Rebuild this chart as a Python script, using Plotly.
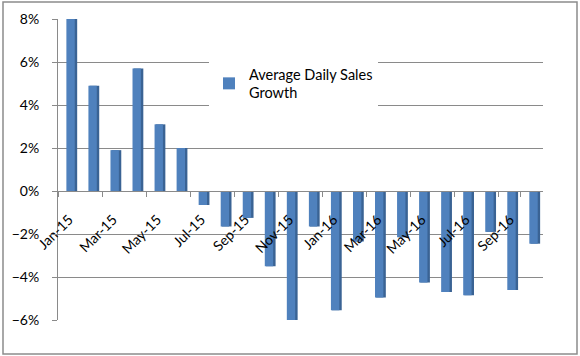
import plotly.graph_objects as go

months = ["Jan-15", "Feb-15", "Mar-15", "Apr-15", "May-15", "Jun-15",
          "Jul-15", "Aug-15", "Sep-15", "Oct-15", "Nov-15", "Dec-15",
          "Jan-16", "Feb-16", "Mar-16", "Apr-16", "May-16", "Jun-16",
          "Jul-16", "Aug-16", "Sep-16", "Oct-16"]
growth = [0.080, 0.049, 0.019, 0.057, 0.031, 0.020,
          -0.0065, -0.0165, -0.0125, -0.035, -0.060, -0.0165,
          -0.0555, -0.0235, -0.0495, -0.0215, -0.0425, -0.047,
          -0.0485, -0.019, -0.046, -0.0245]
label_months = months[::2]
y_ticks = [-0.06, -0.04, -0.02, 0.0, 0.02, 0.04, 0.06, 0.08]

series_name = "Average Daily Sales<br>Growth"
FONT = "Lato, 'Open Sans', sans-serif"
GRID = "#8a8a8a"

fig = go.Figure()
# darker side face (gives the 3D column look)
fig.add_trace(go.Bar(x=months, y=growth, width=0.44, offset=-0.07,
                     marker=dict(color="#3a6394", line=dict(width=0)),
                     showlegend=False, hoverinfo="skip"))
# front face
fig.add_trace(go.Bar(x=months, y=growth, width=0.38, offset=-0.12,
                     name=series_name,
                     marker=dict(color="#4f81bd", line=dict(width=0))))

L, R, T, B = 58, 37, 19, 36
W, H = 580, 356
pw, ph = W - L - R, H - T - B

fig.update_layout(
    width=W, height=H,
    margin=dict(l=L, r=R, t=T, b=B, autoexpand=False),
    barmode="overlay",
    paper_bgcolor="white", plot_bgcolor="white",
    font=dict(family=FONT, size=12, color="#000000"),
    showlegend=True,
    legend=dict(x=(209 - L) / pw, y=(H - B - 58) / ph, xanchor="left", yanchor="top",
                bgcolor="white", font=dict(size=14.5, family=FONT, color="#000"),
                itemwidth=30, tracegroupgap=0),
    yaxis=dict(range=[-0.06, 0.08], tickvals=y_ticks, tickformat=".0%",
               showgrid=True, gridcolor=GRID, gridwidth=1,
               zeroline=False, showline=True, linecolor=GRID, linewidth=1,
               ticks="outside", ticklen=5, tickcolor=GRID,
               ticklabelstandoff=10, tickfont=dict(size=14)),
    xaxis=dict(type="category", categoryorder="array", categoryarray=months,
               range=[-0.5, len(months) - 0.5],
               tickvals=label_months, tickangle=-45, tickson="boundaries",
               anchor="free", position=6 / 14,
               showgrid=False, zeroline=False,
               showline=True, linecolor=GRID, linewidth=1,
               ticks="outside", ticklen=5, tickcolor=GRID,
               ticklabelstandoff=14, tickfont=dict(size=14)),
    shapes=[dict(type="rect", xref="paper", yref="paper",
                 x0=(3 - L) / pw, x1=(577 - L) / pw,
                 y0=(H - B - 354) / ph, y1=(H - B - 2) / ph,
                 line=dict(color="#8c8c8c", width=1.5), fillcolor="rgba(0,0,0,0)",
                 layer="below")],
)

fig.write_html("out.html", config={"displayModeBar": False},
               post_script="document.body.style.margin='0';document.body.style.overflow='hidden';")
